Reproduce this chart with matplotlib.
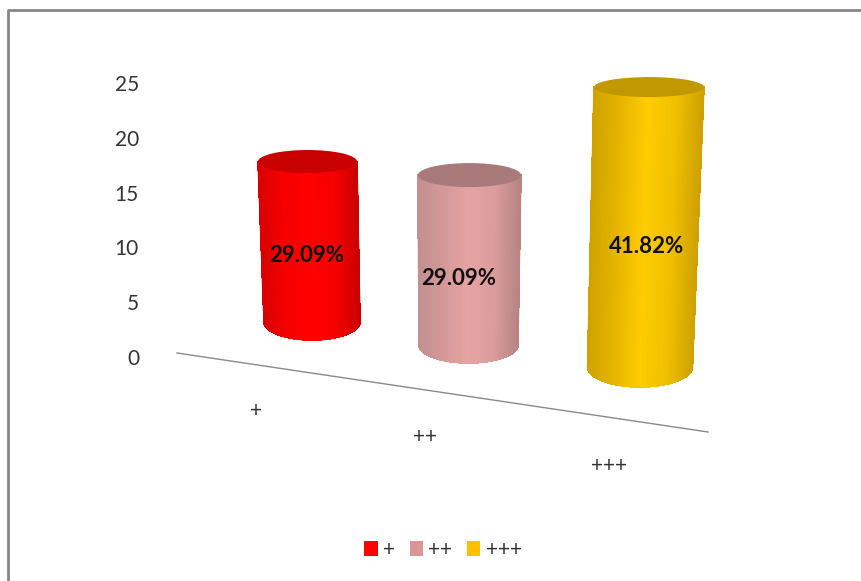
import matplotlib
matplotlib.use('Agg')
import matplotlib.pyplot as plt
import numpy as np
from matplotlib.collections import LineCollection, PolyCollection
from matplotlib.colors import LinearSegmentedColormap
from matplotlib.patches import Ellipse, Patch

# chart data
categories = ['+', '++', '+++']
counts = [16, 16, 23]
pct_labels = ['29.09%', '29.09%', '41.82%']
yticks = [0, 5, 10, 15, 20, 25]

# look of each cylinder: edge, side, highlight, right side, right edge, lid
shades = [
    ['#d80000', '#f60000', '#ff0000', '#f80000', '#cc0000', '#c80000'],
    ['#c29090', '#d49898', '#e6a3a3', '#dc9c9c', '#b88484', '#a87a7a'],
    ['#cfa200', '#e6b500', '#ffcc00', '#f0c000', '#cfa200', '#c29800'],
]
legend_colors = ['#ff0000', '#d99694', '#ffc000']

# fake 3D layout, measured in pixels: floor position and how fast it grows per unit
base_x = [312, 468.5, 640]
base_y = [322, 345, 367]
unit_px = [10.03, 10.62, 12.17]
lean = [-0.28, 0.06, 0.39]
base_r = [(48, 18), (49.5, 18), (52.5, 20)]
top_r = [(49.5, 11.5), (51.5, 12), (55, 10)]
label_off = [(-3, 14), (-10, 18), (2, 19)]

plt.rcParams['font.family'] = ['Lato', 'DejaVu Sans']
fig = plt.figure(figsize=(8.61, 5.81), dpi=100)
ax = fig.add_axes([0, 0, 1, 1])
ax.set_xlim(0, 861)
ax.set_ylim(581, 0)
ax.axis('off')

# frame of the picture
ax.plot([7.5, 7.5, 861], [581, 10.3, 10.3], color='#868686', lw=2)

# floor line and value axis text
ax.plot([177, 708], [353, 432], color='#8a8a8a', lw=1)
for v in yticks:
    ax.text(139, 359 - v*10.96, str(v), ha='right', va='center', fontsize=15, color='#333333')

label_xy = [(256, 411), (425, 437), (609, 466)]
for name, (lx, ly) in zip(categories, label_xy):
    ax.text(lx, ly, name, ha='center', va='center', fontsize=15, color='#333333')


def draw_cylinder(i):
    v = counts[i]
    top_x = base_x[i] + lean[i]*v
    top_y = base_y[i] - unit_px[i]*v
    cmap = LinearSegmentedColormap.from_list('c', shades[i][:5])
    # side wall as thin strips that follow the lean
    ang = np.linspace(np.pi, 0, 241)
    xb = base_x[i] + base_r[i][0]*np.cos(ang)
    yb = base_y[i] + base_r[i][1]*np.sin(ang)
    xt = top_x + top_r[i][0]*np.cos(ang)
    yt = top_y + top_r[i][1]*np.sin(ang)
    strips = []
    cols = []
    for k in range(len(ang) - 1):
        strips.append([(xb[k], yb[k]), (xb[k+1], yb[k+1]), (xt[k+1], yt[k+1]), (xt[k], yt[k])])
        cols.append(cmap(0.5 + 0.5*np.cos(ang[k])))
    ax.add_collection(PolyCollection(strips, facecolors=cols, edgecolors=cols, linewidths=0.5,
                                     antialiaseds=False, zorder=3))
    # soft outline so the wall edge is not jagged
    rim = [[(xb[k], yb[k]), (xb[k+1], yb[k+1])] for k in range(len(ang) - 1)]
    rim += [[(xb[0], yb[0]), (xt[0], yt[0])], [(xb[-1], yb[-1]), (xt[-1], yt[-1])]]
    ax.add_collection(LineCollection(rim, colors=cols + [cols[0], cols[-1]], linewidths=1, zorder=3.5))
    ax.add_patch(Ellipse((top_x, top_y), 2*top_r[i][0], 2*top_r[i][1], fc=shades[i][5], ec='none', zorder=4))
    dx, dy = label_off[i]
    ax.text((base_x[i] + top_x)/2 + dx, (base_y[i] + top_y)/2 + dy, pct_labels[i], ha='center', va='center',
            fontsize=16, fontweight='bold', color='#111111', zorder=5)


for i in range(len(categories)):
    draw_cylinder(i)

handles = [Patch(fc=c, ec='none') for c in legend_colors]
fig.legend(handles, categories, ncols=3, frameon=False, loc='center', bbox_to_anchor=(443/861, 1 - 549.5/581),
           fontsize=15, handlelength=0.65, handleheight=0.7, handletextpad=0.25, columnspacing=0.7, labelcolor='#333333')

fig.savefig('out.png', dpi=100)
